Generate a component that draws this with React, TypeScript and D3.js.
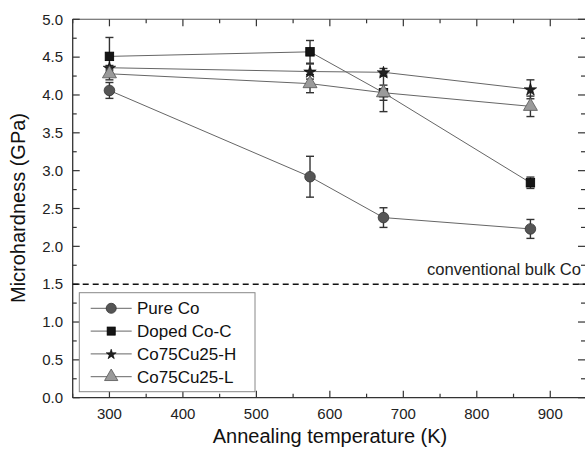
import React from "react";
import * as d3 from "d3";

const temps = [300, 573, 673, 873];
const pureCo = [4.06, 2.92, 2.38, 2.23];
const pureCoErr = [0.105, 0.27, 0.13, 0.125];
const dopedCoC = [4.51, 4.57, 4.03, 2.84];
const dopedCoCErr = [0.25, 0.15, 0.25, 0.075];
const coCuH = [4.36, 4.31, 4.3, 4.075];
const coCuHErr = [0.03, 0.1, 0.05, 0.125];
const coCuL = [4.28, 4.15, 4.03, 3.85];
const coCuLErr = [0.08, 0.12, 0.1, 0.135];
const seriesNames = ["Pure Co", "Doped Co-C", "Co75Cu25-H", "Co75Cu25-L"];
const xTicks = [300, 400, 500, 600, 700, 800, 900];
const yTicks = [0, 0.5, 1, 1.5, 2, 2.5, 3, 3.5, 4, 4.5, 5];
const bulkCo = 1.5;
const bulkLabel = "conventional bulk Co";

const W = 585, H = 450;
const x = d3.scaleLinear().domain([250, 950]).range([72.7, 587]);
const y = d3.scaleLinear().domain([0, 5]).range([397.7, 19.3]);
const FONT = "'Liberation Sans', Arial, sans-serif";

type Shape = "circle" | "square" | "star" | "triangle";
const series = [
  { name: seriesNames[0], v: pureCo, e: pureCoErr, shape: "circle" as Shape, fill: "#555" },
  { name: seriesNames[1], v: dopedCoC, e: dopedCoCErr, shape: "square" as Shape, fill: "#151515" },
  { name: seriesNames[2], v: coCuH, e: coCuHErr, shape: "star" as Shape, fill: "#222" },
  { name: seriesNames[3], v: coCuL, e: coCuLErr, shape: "triangle" as Shape, fill: "#9a9a9a" },
];

function Marker({ shape, cx, cy, fill, scale = 1 }: { shape: Shape; cx: number; cy: number; fill: string; scale?: number }) {
  if (shape === "circle") return <circle cx={cx} cy={cy} r={5.3 * scale} fill={fill} stroke="#333" strokeWidth={0.8} />;
  if (shape === "square") { const s = 8.5 * scale; return <rect x={cx - s / 2} y={cy - s / 2} width={s} height={s} fill={fill} stroke="#000" strokeWidth={0.8} />; }
  if (shape === "star") return <path d={d3.symbol(d3.symbolStar, 48 * scale * scale)()!} transform={`translate(${cx},${cy + 0.5})`} fill={fill} stroke="#000" strokeWidth={0.6} />;
  return <path d={d3.symbol(d3.symbolTriangle, 85 * scale * scale)()!} transform={`translate(${cx},${cy})`} fill={fill} stroke="#555" strokeWidth={0.8} />;
}

export default function App() {
  const line = d3.line<number>().x((_, i) => x(temps[i])).y((d) => y(d));
  const xMinor = d3.range(250, 951, 50);
  const yMinor = d3.range(0, 5.01, 0.25);
  const left = x(250), right = x(950), top = y(5), bottom = y(0);
  return (
    <svg width={W} height={H} style={{ position: "absolute", left: 0, top: 0, background: "#fff" }} fontFamily={FONT}>
      <line x1={left} x2={right} y1={bottom} y2={bottom} stroke="#333" strokeWidth={1.3} />
      <line x1={left} x2={right} y1={top} y2={top} stroke="#555" strokeWidth={1.1} />
      <line x1={left} x2={left} y1={top} y2={bottom} stroke="#333" strokeWidth={1.3} />
      <line x1={right} x2={right} y1={top} y2={bottom} stroke="#333" strokeWidth={1.3} />
      {xMinor.map((t) => {
        const major = t % 100 === 0;
        const len = major ? 7 : 4;
        return (
          <g key={"xt" + t}>
            <line x1={x(t)} x2={x(t)} y1={bottom} y2={bottom - len} stroke="#333" strokeWidth={1.2} />
            <line x1={x(t)} x2={x(t)} y1={top} y2={top + len} stroke="#333" strokeWidth={1.2} />
          </g>
        );
      })}
      {yMinor.map((t) => {
        const major = Math.abs(t * 2 - Math.round(t * 2)) < 1e-6;
        const len = major ? 7 : 4;
        return (
          <g key={"yt" + t}>
            <line x1={left} x2={left + len} y1={y(t)} y2={y(t)} stroke="#333" strokeWidth={1.2} />
            <line x1={right} x2={right - len - 2} y1={y(t)} y2={y(t)} stroke="#333" strokeWidth={1.2} />
          </g>
        );
      })}
      {xTicks.map((t) => (
        <text key={"xl" + t} x={x(t)} y={419} textAnchor="middle" fontSize={15} fill="#222">{t}</text>
      ))}
      {yTicks.map((t) => (
        <text key={"yl" + t} x={63} y={y(t) + 5.3} textAnchor="end" fontSize={15} fill="#222">{t.toFixed(1)}</text>
      ))}
      <text x={330} y={443} textAnchor="middle" fontSize={20} fill="#111">Annealing temperature (K)</text>
      <text transform={`translate(25,208) rotate(-90)`} textAnchor="middle" fontSize={20} fill="#111">Microhardness (GPa)</text>

      <line x1={left} x2={right} y1={y(bulkCo)} y2={y(bulkCo)} stroke="#111" strokeWidth={1.5} strokeDasharray="6,4" />
      <text x={427} y={y(bulkCo) - 9} fontSize={16.6} fill="#222">{bulkLabel}</text>

      {series.map((s) => (
        <path key={"l" + s.name} d={line(s.v)!} fill="none" stroke="#666" strokeWidth={1} />
      ))}
      {series.map((s) => (
        <g key={"e" + s.name}>
          {s.v.map((v, i) => {
            const cx = x(temps[i]);
            const y1 = y(v + s.e[i]), y2 = y(v - s.e[i]);
            return (
              <g key={i} stroke="#333" strokeWidth={1.4}>
                <line x1={cx} x2={cx} y1={y1} y2={y2} />
                <line x1={cx - 4} x2={cx + 4} y1={y1} y2={y1} />
                <line x1={cx - 4} x2={cx + 4} y1={y2} y2={y2} />
              </g>
            );
          })}
        </g>
      ))}
      {series.map((s) => (
        <g key={"m" + s.name}>
          {s.v.map((v, i) => (
            <Marker key={i} shape={s.shape} cx={x(temps[i])} cy={y(v)} fill={s.fill} />
          ))}
        </g>
      ))}

      <rect x={79.3} y={292.7} width={175.7} height={99} fill="#fff" stroke="#888" strokeWidth={1} />
      {series.map((s, i) => {
        const ly = 308.3 + i * 22.8;
        return (
          <g key={"lg" + s.name}>
            <line x1={90.7} x2={131.7} y1={ly} y2={ly} stroke="#666" strokeWidth={1} />
            <Marker shape={s.shape} cx={111.2} cy={ly} fill={s.fill} scale={s.shape === "star" ? 0.8 : 0.95} />
            <text x={137} y={ly + 6} fontSize={17} fill="#111">{s.name}</text>
          </g>
        );
      })}
    </svg>
  );
}
